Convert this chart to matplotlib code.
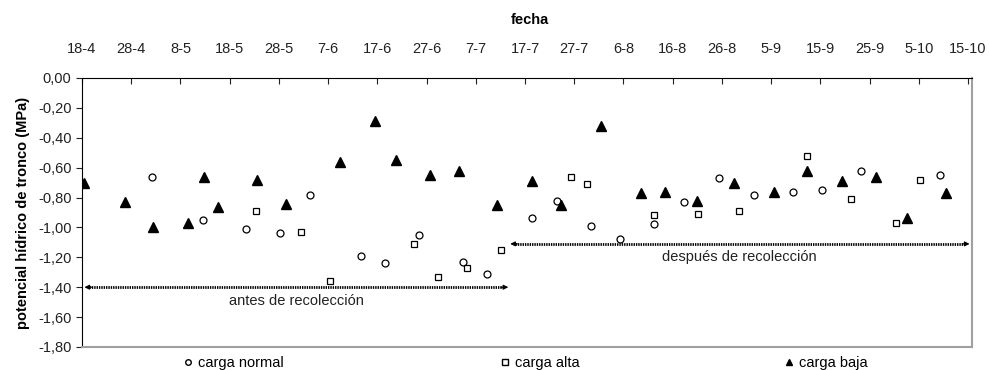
import matplotlib
matplotlib.use("Agg")
import matplotlib.pyplot as plt
from matplotlib.lines import Line2D
from matplotlib.ticker import FuncFormatter

plt.rcParams["font.family"] = ["Liberation Sans", "DejaVu Sans"]

# days counted from 18-4
tick_labels = ["18-4", "28-4", "8-5", "18-5", "28-5", "7-6", "17-6", "27-6", "7-7",
               "17-7", "27-7", "6-8", "16-8", "26-8", "5-9", "15-9", "25-9", "5-10", "15-10"]
tick_days = list(range(0, 181, 10))

normal_days = [14.3, 24.5, 33.4, 40.3, 46.4, 56.6, 61.5, 68.4, 77.3, 82.2, 91.5, 96.4,
               103.4, 109.3, 116.2, 122.3, 129.4, 136.5, 144.4, 150.3, 158.2, 174.3]
normal_vals = [-0.66, -0.95, -1.01, -1.04, -0.78, -1.19, -1.24, -1.05, -1.23, -1.31, -0.94, -0.82,
               -0.99, -1.08, -0.98, -0.83, -0.67, -0.78, -0.76, -0.75, -0.62, -0.65]

alta_days = [35.4, 44.4, 50.3, 67.4, 72.4, 78.3, 85.2, 99.4, 102.5, 116.3, 125.1, 133.4,
             147.2, 156.2, 165.3, 170.2]
alta_vals = [-0.89, -1.03, -1.36, -1.11, -1.33, -1.27, -1.15, -0.66, -0.71, -0.92, -0.91, -0.89,
             -0.52, -0.81, -0.97, -0.68]

baja_days = [0.5, 8.7, 14.5, 21.6, 24.7, 27.7, 35.6, 41.5, 52.5, 59.6, 63.7, 70.6, 76.5,
             84.4, 91.5, 97.4, 105.5, 113.5, 118.4, 125.0, 132.4, 140.5, 147.2, 154.3,
             161.3, 167.5, 175.5]
baja_vals = [-0.70, -0.83, -1.00, -0.97, -0.66, -0.86, -0.68, -0.84, -0.56, -0.29, -0.55, -0.65,
             -0.62, -0.85, -0.69, -0.85, -0.32, -0.77, -0.76, -0.82, -0.70, -0.76, -0.62, -0.69,
             -0.66, -0.94, -0.77]

# harvest periods
antes = (0.5, 86.6, -1.40)
despues = (87.0, 180.3, -1.11)

fig = plt.figure(figsize=(9.89, 3.70), dpi=100)
ax = fig.add_axes([0.0829, 0.0622, 0.8999, 0.727])

ax.plot(normal_days, normal_vals, "o", ms=5, mfc="white", mec="black", mew=0.9, ls="none")
ax.plot(alta_days, alta_vals, "s", ms=5, mfc="white", mec="black", mew=0.9, ls="none")
ax.plot(baja_days, baja_vals, "^", ms=6.5, mfc="black", mec="black", ls="none")


def period_arrow(x0, x1, y, text, tx):
    ax.plot([x0 + 1, x1 - 1], [y, y], color="black", lw=2.0, ls=(0, (0.5, 0.35)))
    for a, b in ((x0 + 1.5, x0), (x1 - 1.5, x1)):
        ax.annotate("", xy=(b, y), xytext=(a, y),
                    arrowprops=dict(arrowstyle="-|>", color="black", lw=0.8,
                                    mutation_scale=7, shrinkA=0, shrinkB=0))
    ax.text(tx, y - 0.09, text, ha="center", va="center", fontsize=10.5, color="#222222")


period_arrow(*antes, "antes de recolección", 43.5)
period_arrow(*despues, "después de recolección", 133.5)

ax.set_xlim(0, 180.8)
ax.set_ylim(-1.80, 0.0)
ax.set_yticks([-0.2 * i for i in range(10)])
ax.yaxis.set_major_formatter(FuncFormatter(lambda v, p: f"{v:.2f}".replace(".", ",").replace("-0,00", "0,00")))
ax.set_xticks(tick_days)
ax.set_xticklabels(tick_labels)
ax.xaxis.tick_top()
ax.tick_params(axis="x", direction="in", length=4, labelsize=10.5, pad=16, colors="#222222")
ax.tick_params(axis="y", direction="out", length=4, labelsize=10.5, colors="#222222")
for s in ("left", "top"):
    ax.spines[s].set_color("black")
for s in ("right", "bottom"):
    ax.spines[s].set_color("#a0a0a0")
    ax.spines[s].set_linewidth(1.5)

ax.set_ylabel("potencial hídrico de tronco (MPa)", fontsize=10.5, fontweight="bold", labelpad=6)
fig.text(530 / 989, 1 - 20 / 370, "fecha", ha="center", va="center", fontsize=10.5,
         fontweight="bold")

# legend entries spread along the bottom
entries = [
    (Line2D([], [], marker="o", ms=4, mfc="white", mec="black", ls="none"), "carga normal", 234),
    (Line2D([], [], marker="s", ms=4, mfc="white", mec="black", ls="none"), "carga alta", 540),
    (Line2D([], [], marker="^", ms=5, mfc="black", mec="black", ls="none"), "carga baja", 826),
]
for handle, label, cx in entries:
    fig.legend([handle], [label], loc="center", bbox_to_anchor=(cx / 989, 1 - 363 / 370),
               frameon=False, fontsize=10.5, handlelength=0.6, handletextpad=0.4,
               borderpad=0)

fig.savefig("out.png", dpi=100)
